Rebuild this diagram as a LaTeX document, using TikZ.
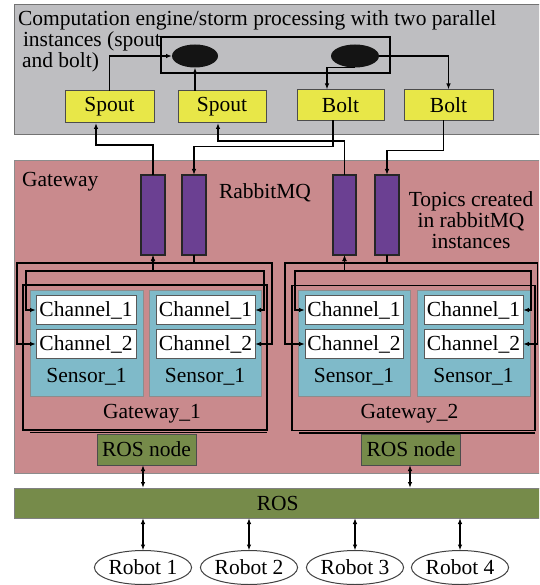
\documentclass[tikz,border=0pt]{standalone}
\usepackage{fontspec}
\setmainfont{Liberation Serif}
\newfontfamily\kserif{Liberation Serif}
\usetikzlibrary{arrows.meta,calc,shapes.geometric}
\definecolor{stormgray}{RGB}{190,190,193}
\definecolor{gwpink}{RGB}{201,138,141}
\definecolor{spoutyellow}{RGB}{232,231,72}
\definecolor{mqpurple}{RGB}{107,64,146}
\definecolor{sensorteal}{RGB}{127,186,201}
\definecolor{rosgreen}{RGB}{118,139,74}
\tikzset{
  kwire/.style={line width=1.2pt, black},
  karrow/.style={-{Latex[length=6pt,width=4.5pt]}},
  kdarrow/.style={{Latex[length=6pt,width=4.5pt]}-{Latex[length=6pt,width=4.5pt]}},
  kpanel/.style={rectangle, draw=black!55, line width=1pt},
  kyellow/.style={rectangle, fill=spoutyellow, draw=black!70, line width=1pt,
    minimum height=31pt},
  kbar/.style={rectangle, fill=mqpurple, draw=black!85, line width=1.8pt,
    minimum width=23.5pt, minimum height=80pt},
  ksensor/.style={rectangle, fill=sensorteal, draw=black!45, line width=1pt,
    minimum height=106pt},
  kchannel/.style={rectangle, fill=white, draw=black!65, line width=1pt,
    minimum height=29pt},
  kgate/.style={rectangle, draw=black, line width=1.2pt,
    minimum width=244pt, minimum height=145pt},
  krosnode/.style={rectangle, fill=rosgreen, draw=black!70, line width=1pt,
    minimum width=99pt, minimum height=31pt},
  krobot/.style={ellipse, fill=white, draw=black!75, line width=1pt,
    minimum width=94pt, minimum height=34pt},
  kspot/.style={ellipse, fill=black!92, draw=none, minimum height=23pt},
}
\begin{document}
\begin{tikzpicture}[x=1pt,y=-1pt,
  font=\kserif\fontsize{21.5}{25}\selectfont,
  every node/.append style={inner sep=0pt, outer sep=0pt}]
\useasboundingbox (0,0) rectangle (539,585);
\clip (0,0) rectangle (539,585);

% ---------- computation engine ----------
\node[kpanel, fill=stormgray, minimum width=526.5pt, minimum height=130.5pt]
  (storm) at (277.75,69.75) {};
\node[anchor=base west] (title1) at (18,26)
  {Computation engine/storm processing with two parallel};
\node[anchor=base west] (title2) at (23,47) {instances (spout};
\node[anchor=base west] (title3) at (22,68) {and bolt)};

\node[rectangle, draw=black, line width=1.2pt, minimum width=229pt,
  minimum height=36pt] (topo) at (275.5,55) {};
\node[kspot, minimum width=46pt] (e1) at (195,56) {};
\node[kspot, minimum width=48pt] (e2) at (355,56) {};

\node[kyellow, minimum width=89pt, minimum height=32pt] (spout1) at (109.5,107) {Spout};
\node[kyellow, minimum width=88pt, minimum height=32pt] (spout2) at (222,107) {Spout};
\node[kyellow, minimum width=87pt] (bolt1) at (340.5,105) {Bolt};
\node[kyellow, minimum width=89pt] (bolt2) at (448.5,105) {Bolt};

\draw[kwire,karrow] (spout1.north) |- (e1.west);
\draw[kwire,karrow] (spout2.north -| e1.south) -- (e1.south);
\draw[kwire,karrow] (e2.south) -| ([xshift=-13.5pt]bolt1.north);
\draw[kwire,karrow] (e2.east) -| (bolt2.north);

% ---------- gateway ----------
\node[kpanel, fill=gwpink, draw=black!45, minimum width=526.5pt, minimum height=312pt]
  (gw) at (277.75,317) {};
\node[anchor=base west] (gwlabel) at (22,186.5) {Gateway};

\node[kbar] (q1) at (153,215) {};
\node[kbar] (q2) at (194,215) {};
\node[kbar] (q3) at (344.5,215) {};
\node[kbar] (q4) at (387,215) {};
\node[anchor=base] (mqlabel) at (265,199) {RabbitMQ};
\node[anchor=base] (topics1) at (471,206) {Topics created};
\node[anchor=base] (topics2) at (471,227.5) {in rabbitMQ};
\node[anchor=base] (topics3) at (471,248) {instances};

% links between the queues and the topology
\draw[kwire,karrow] (q1.north) -- ++(0,-30) -| ([xshift=-13.5pt]spout1.south);
\draw[kwire,karrow] (q3.north) -- ++(0,-34) -| ([xshift=-4pt]spout2.south);
\draw[kwire,karrow] ([xshift=-7.5pt]bolt1.south) -- ++(0,26) -| (q2.north);
\draw[kwire,karrow] ([xshift=-5pt]bolt2.south) -- ++(0,30) -| (q4.north);

% gateway 1
\node[kgate] (g1) at (145,357.5) {};
\draw[line width=1.2pt] ($(g1.south west)+(7,2.5)$) -- ($(g1.south east)+(0,2.5)$);
\node[ksensor, minimum width=113pt] (s11) at (86.5,343) {};
\node[ksensor, minimum width=112pt] (s12) at (205,343) {};
\node[kchannel, minimum width=100pt] (c11) at (86,310) {Channel\_1};
\node[kchannel, minimum width=100pt] (c12) at (86,344) {Channel\_2};
\node[kchannel, minimum width=99pt] (c21) at (205.5,310) {Channel\_1};
\node[kchannel, minimum width=99pt] (c22) at (205.5,344) {Channel\_2};
\node[anchor=base] (s11t) at (86.5,382) {Sensor\_1};
\node[anchor=base] (s12t) at (205,382) {Sensor\_1};
\node[anchor=base] (g1t) at (152,418) {Gateway\_1};

% gateway 2
\node[kgate, minimum width=243pt] (g2) at (413.5,358) {};
\draw[line width=1.2pt] ($(g2.south west)+(7,2.5)$) -- ($(g2.south east)+(0,2.5)$);
\node[ksensor, minimum width=112pt] (s21) at (354,343) {};
\node[ksensor, minimum width=113pt] (s22) at (473.5,343) {};
\node[kchannel, minimum width=98pt] (d11) at (354,310) {Channel\_1};
\node[kchannel, minimum width=98pt] (d12) at (354,344) {Channel\_2};
\node[kchannel, minimum width=99pt] (d21) at (473.5,310) {Channel\_1};
\node[kchannel, minimum width=99pt] (d22) at (473.5,344) {Channel\_2};
\node[anchor=base] (s21t) at (354,382) {Sensor\_1};
\node[anchor=base] (s22t) at (473.5,382) {Sensor\_1};
\node[anchor=base] (g2t) at (409.5,418) {Gateway\_2};

% routing corners inside the gateway
\coordinate (o1l) at (17,263);
\coordinate (o1r) at (272,263);
\coordinate (i1l) at (26,271);
\coordinate (i1r) at (264,271);
\coordinate (o2l) at (285,263);
\coordinate (o2r) at (537.5,263);
\coordinate (i2l) at (295,271);
\coordinate (i2r) at (531,271);

\draw[kwire,karrow] (q2.south) |- (o1l) |- (c12.west);
\draw[kwire,karrow] (q2.south) |- (o1r) |- (c22.east);
\draw[kwire,kdarrow] (q1.south) |- (i1l) |- (c11.west);
\draw[kwire,kdarrow] (q1.south) |- (i1r) |- (c21.east);

\draw[kwire,karrow] (q4.south) |- (o2l) |- (d12.west);
\draw[kwire,karrow] (q4.south) |- (o2r) |- (d22.east);
\draw[kwire,kdarrow] (q3.south) |- (i2l) |- (d11.west);
\draw[kwire,kdarrow] (q3.south) |- (i2r) |- (d21.east);

\node[krosnode] (rn1) at (146.5,449.5) {ROS node};
\node[krosnode] (rn2) at (411,449.5) {ROS node};

% ---------- ROS and robots ----------
\node[rectangle, fill=rosgreen, draw=black!50, line width=1pt,
  minimum width=526.5pt, minimum height=30pt] (ros) at (277.75,503) {ROS};

\draw[kwire,kdarrow] ([xshift=-3.5pt]rn1.south) -- ([xshift=-3.5pt]rn1.south |- ros.north);
\draw[kwire,kdarrow] ([xshift=-1pt]rn2.south) -- ([xshift=-1pt]rn2.south |- ros.north);

\node[krobot] (r1) at (143,567.5) {Robot 1};
\node[krobot] (r2) at (249,567.5) {Robot 2};
\node[krobot] (r3) at (355,567.5) {Robot 3};
\node[krobot] (r4) at (460,567.5) {Robot 4};

\foreach \r in {r1,r2,r3,r4}
  \draw[kwire,kdarrow] (\r.north |- ros.south) -- (\r.north);
\end{tikzpicture}
\end{document}
